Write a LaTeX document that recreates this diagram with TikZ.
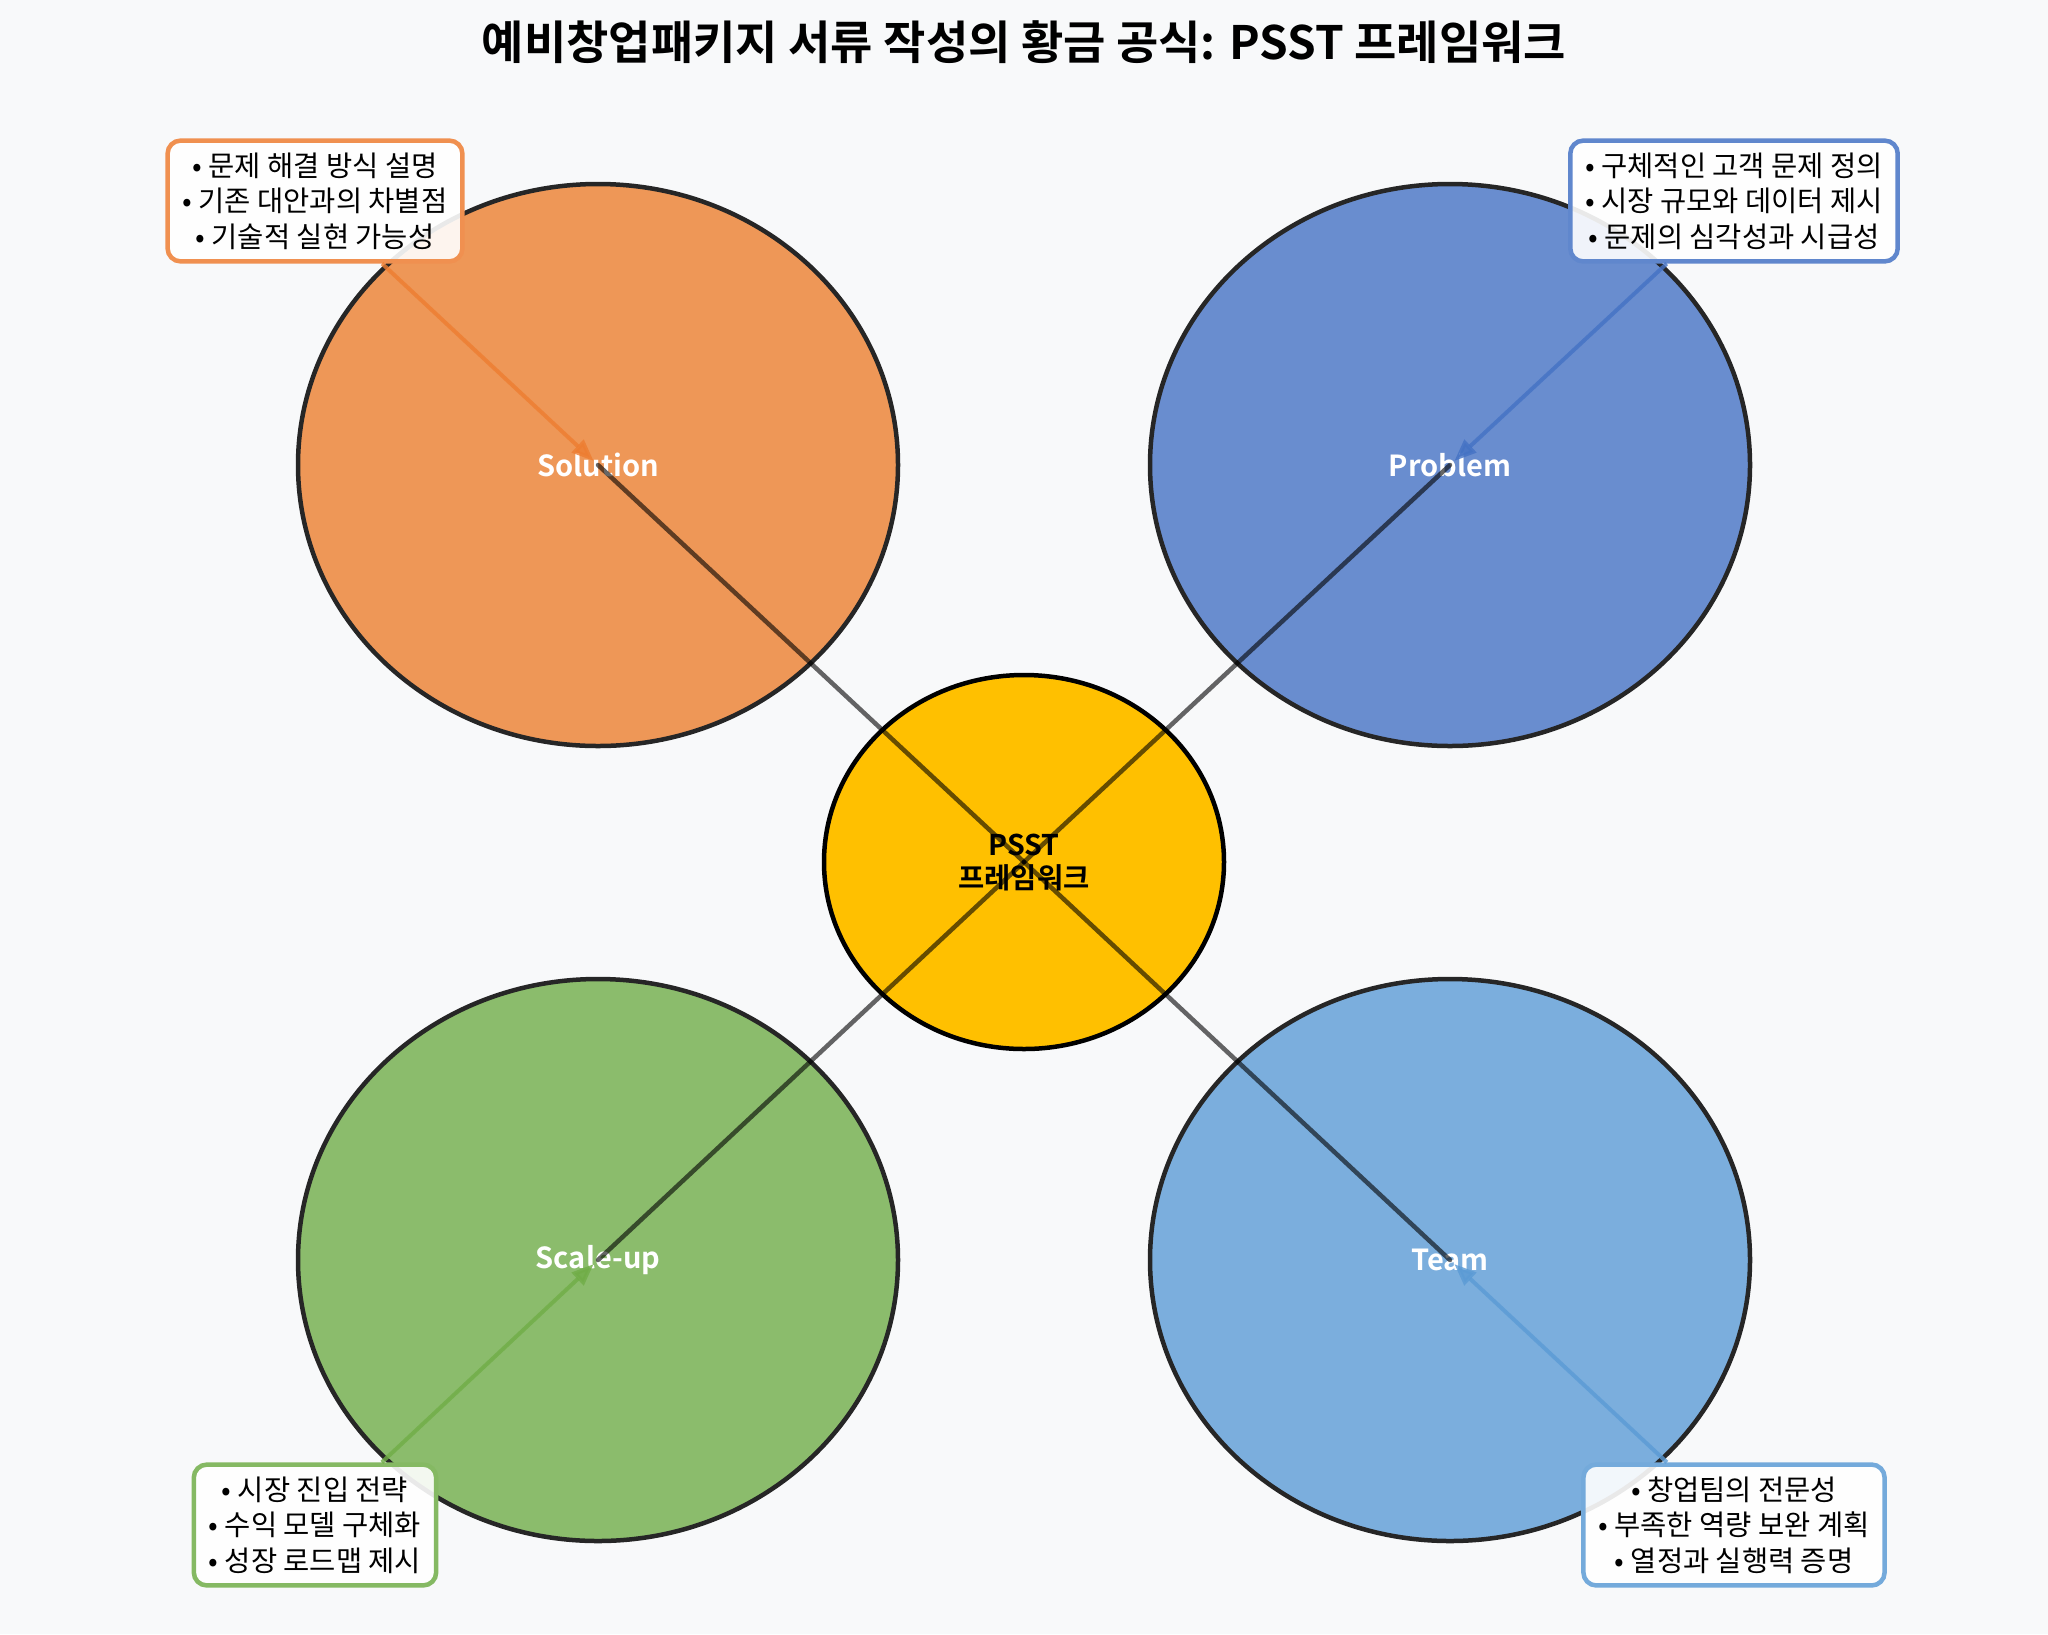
\documentclass[tikz,border=0pt]{standalone}
\usepackage{fontspec}
\setmainfont{Noto Sans CJK KR}[BoldFont={Noto Sans CJK KR Bold}]
\usetikzlibrary{shapes.geometric,arrows.meta}
\definecolor{bg}{HTML}{F8F9FA}
\definecolor{solc}{HTML}{ED7D31}
\definecolor{proc}{HTML}{4472C4}
\definecolor{scac}{HTML}{70AD47}
\definecolor{teac}{HTML}{5B9BD5}
\definecolor{solf}{HTML}{EE9757}
\definecolor{prof}{HTML}{698DCF}
\definecolor{scaf}{HTML}{8BBC6C}
\definecolor{teaf}{HTML}{7BAEDD}
\definecolor{ctrf}{HTML}{FFC000}
\tikzset{
  circ/.style={ellipse, draw=black!85, line width=4.5pt, minimum width=600pt,
    minimum height=562pt, inner sep=0pt, text=white,
    font=\bfseries\fontsize{29}{34}\selectfont},
  ctrnode/.style={ellipse, draw=black, fill=ctrf, line width=4.5pt,
    minimum width=400pt, minimum height=374pt, inner sep=0pt, align=center,
    font=\bfseries\fontsize{28.5}{33}\selectfont},
  conn/.style={draw=black, draw opacity=0.6, line width=4.5pt, line cap=round},
  infobox/.style={rounded corners=13pt, fill=white, fill opacity=0.9,
    text opacity=1, line width=4.5pt, align=center, inner xsep=15pt,
    inner ysep=12pt, font=\fontsize{28.5}{35.5}\selectfont},
  arr/.style={line width=4pt, draw opacity=0.8, fill opacity=0.8,
    -{Triangle[length=22pt,width=17pt]}, shorten >=6pt},
}
\begin{document}
\begin{tikzpicture}[x=1pt,y=-1pt]
\fill[bg] (0,0) rectangle (2048,1634);
\useasboundingbox (0,0) rectangle (2048,1634);

\node[font=\bfseries\fontsize{46}{54}\selectfont] (title) at (1024,42)
  {예비창업패키지 서류 작성의 황금 공식: PSST 프레임워크};

\node[circ, fill=solf] (sol) at (598,465) {Solution};
\node[circ, fill=prof] (pro) at (1450,465) {Problem};
\node[circ, fill=scaf] (sca) at (598,1260) {Scale-up};
\node[circ, fill=teaf] (tea) at (1450,1260) {Team};

\node[ctrnode] (ctr) at (1024,862) {PSST\\프레임워크};

\draw[conn] (ctr.center) -- (sol.center);
\draw[conn] (ctr.center) -- (pro.center);
\draw[conn] (ctr.center) -- (sca.center);
\draw[conn] (ctr.center) -- (tea.center);

\node[infobox, draw=solc!85] (bsol) at (315,201)
  {• 문제 해결 방식 설명\\• 기존 대안과의 차별점\\• 기술적 실현 가능성};
\node[infobox, draw=proc!85] (bpro) at (1734,201)
  {• 구체적인 고객 문제 정의\\• 시장 규모와 데이터 제시\\• 문제의 심각성과 시급성};
\node[infobox, draw=scac!85] (bsca) at (315,1525)
  {• 시장 진입 전략\\• 수익 모델 구체화\\• 성장 로드맵 제시};
\node[infobox, draw=teac!85] (btea) at (1734,1525)
  {• 창업팀의 전문성\\• 부족한 역량 보완 계획\\• 열정과 실행력 증명};

\draw[arr, draw=solc, fill=solc] (bsol) -- (sol.center);
\draw[arr, draw=proc, fill=proc] (bpro) -- (pro.center);
\draw[arr, draw=scac, fill=scac] (bsca) -- (sca.center);
\draw[arr, draw=teac, fill=teac] (btea) -- (tea.center);
\end{tikzpicture}
\end{document}
